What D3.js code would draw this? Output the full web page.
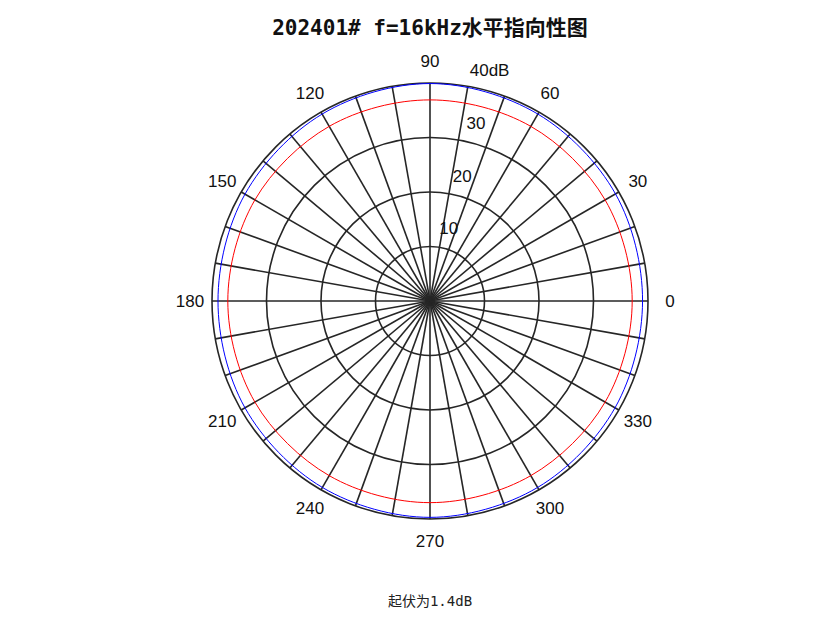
<!DOCTYPE html>
<html><head><meta charset="utf-8">
<script src="https://cdn.jsdelivr.net/npm/d3@7"></script>
<style>body{margin:0;background:#fff}</style></head>
<body><svg id="c" width="831" height="623"></svg>
<script>
const title = "202401# f=16kHz水平指向性图";
const footnote = "起伏为1.4dB";
const ringValues = [10, 20, 30, 40];
const ringLabels = ["10", "20", "30", "40dB"];
const angleTicks = [0, 30, 60, 90, 120, 150, 180, 210, 240, 270, 300, 330];
const spokeAngles = d3.range(0, 360, 10);
// response curves (dB) sampled every 30 degrees, closed
const curveAngles = [0, 30, 60, 90, 120, 150, 180, 210, 240, 270, 300, 330, 360];
const blueValues = [39.0, 39.3, 39.6, 39.9, 39.6, 39.2, 38.9, 39.2, 39.5, 39.7, 39.5, 39.2, 39.0];
const redValues  = [37.1, 37.1, 37.0, 36.9, 37.0, 37.1, 37.1, 37.1, 37.0, 37.0, 37.0, 37.1, 37.1];

const svg = d3.select("#c");
const cx = 430, cy = 301, R = 218;
const r = d3.scaleLinear().domain([0, 40]).range([0, R]);
const g = svg.append("g").attr("transform", `translate(${cx},${cy})`);
const pt = (deg, rr) => [rr * Math.cos(deg * Math.PI / 180), -rr * Math.sin(deg * Math.PI / 180)];

g.selectAll(".ring").data(ringValues).join("circle")
  .attr("r", d => r(d)).attr("fill", "none").attr("stroke", "#262626").attr("stroke-width", 1.6);
g.selectAll(".spoke").data(spokeAngles).join("line")
  .attr("x1", 0).attr("y1", 0)
  .attr("x2", d => pt(d, R)[0]).attr("y2", d => pt(d, R)[1])
  .attr("stroke", "#262626").attr("stroke-width", 1.6);

const line = d3.lineRadial().curve(d3.curveCardinalClosed)
  .angle(d => (90 - d[0]) * Math.PI / 180).radius(d => r(d[1]));
const mk = vals => curveAngles.slice(0, -1).map((a, i) => [a, vals[i]]);
g.append("path").attr("d", line(mk(redValues))).attr("fill", "none").attr("stroke", "#ff0000").attr("stroke-width", 1);
g.append("path").attr("d", line(mk(blueValues))).attr("fill", "none").attr("stroke", "#0000ff").attr("stroke-width", 1);

g.selectAll(".al").data(angleTicks).join("text")
  .attr("x", d => pt(d, 240)[0]).attr("y", d => pt(d, 240)[1])
  .attr("text-anchor", "middle").attr("dominant-baseline", "central")
  .attr("font-family", "Liberation Sans, Arial, sans-serif").attr("font-size", 17).attr("fill", "#111")
  .text(d => d);
g.selectAll(".rl").data(ringValues).join("text")
  .attr("x", (d, i) => pt(75.5, r(d) + 20)[0]).attr("y", (d, i) => pt(75.5, r(d) + 20)[1])
  .attr("text-anchor", "middle").attr("dominant-baseline", "central")
  .attr("font-family", "Liberation Sans, Arial, sans-serif").attr("font-size", 17).attr("fill", "#111")
  .text((d, i) => ringLabels[i]);

svg.append("text").attr("x", 430).attr("y", 28).attr("text-anchor", "middle").attr("dominant-baseline", "central")
  .attr("font-family", "DejaVu Sans Mono, Noto Sans CJK SC, monospace").attr("font-weight", "bold").attr("font-size", 21)
  .attr("fill", "#111").text(title);
svg.append("text").attr("x", 430).attr("y", 601).attr("text-anchor", "middle").attr("dominant-baseline", "central")
  .attr("font-family", "DejaVu Sans Mono, Noto Sans CJK SC, monospace").attr("font-size", 14)
  .attr("fill", "#222").text(footnote);
</script></body></html>
